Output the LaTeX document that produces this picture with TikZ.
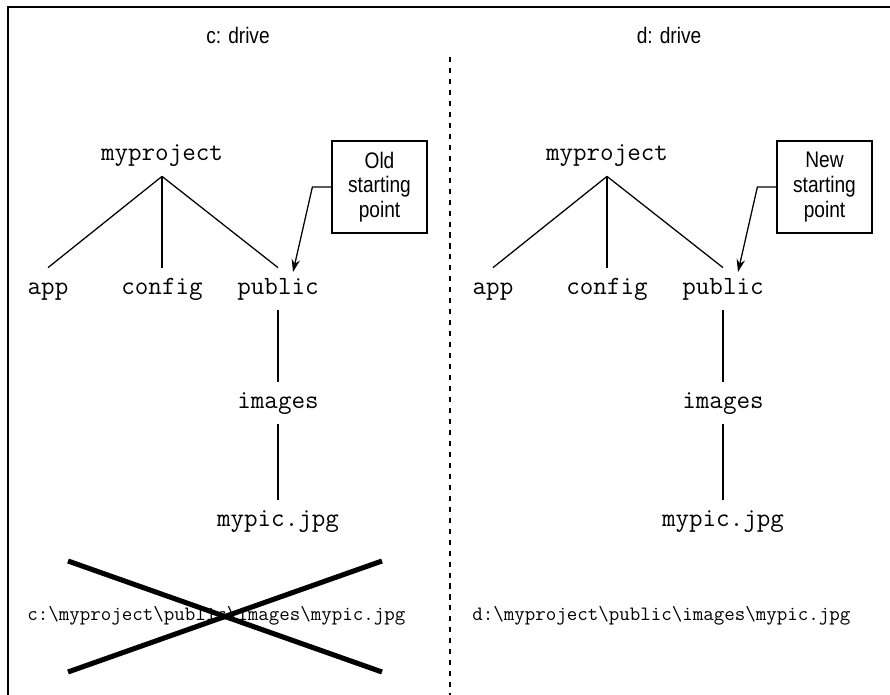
\documentclass[tikz,border=0pt]{standalone}
\usepackage{fontspec}
\setmainfont{Liberation Sans}[FakeStretch=0.85]
\usetikzlibrary{arrows.meta, positioning}

\tikzset{
  folder/.style={font=\ttfamily\fontsize{18.7}{22}\selectfont, text height=12pt, text depth=4pt, inner ysep=7pt, inner xsep=2pt},
  fullpath/.style={font=\ttfamily\fontsize{14.5}{17}\selectfont, anchor=base west, inner sep=0pt},
  drive/.style={font=\fontsize{16}{17.5}\selectfont, anchor=base, inner sep=0pt},
  callout/.style={draw, line width=1pt, align=center, font=\fontsize{16}{17.5}\selectfont, minimum width=2.37cm, minimum height=2.3cm, inner sep=0pt},
  branch/.style={line width=0.9pt},
  pointer/.style={line width=0.9pt, -{Stealth[length=9pt, width=6pt]}},
  cross/.style={line width=3.6pt},
}

\begin{document}
\begin{tikzpicture}[x=0.025cm, y=-0.025cm]
    \useasboundingbox (0,0) rectangle (890,695);

    % Frame and divider
    \draw[line width=1.2pt] (8,695) -- (8,7) -- (890,7);
    \draw[line width=0.9pt, dash pattern=on 3.6pt off 4.2pt] (450,57) -- (450,695);

    % c: drive
    \node[drive] (c-drive) at (238,44) {c: drive};
    \node[folder] (c-mp) at (162,155) {myproject};
    \node[folder] (c-app) at (48,289) {app};
    \node[folder] (c-cfg) at (162,289) {config};
    \node[folder] (c-pub) at (278,289) {public};
    \node[folder] (c-img) at (278,403) {images};
    \node[folder] (c-pic) at (278,521) {mypic.jpg};
    \draw[branch] (c-mp.south) -- (c-app.north);
    \draw[branch] (c-mp.south) -- (c-cfg.north);
    \draw[branch] (c-mp.south) -- (c-pub.north);
    \draw[branch] (c-pub.south) -- (c-img.north);
    \draw[branch] (c-img.south) -- (c-pic.north);

    \node[callout] (c-old) at (379.5,187) {Old\\starting\\point};
    \coordinate (c-tip) at (293,272);
    \draw[pointer] (c-old.west) -- ++(-19,0) -- (c-tip);

    \node[fullpath] (c-path) at (27,620) {c:\textbackslash myproject\textbackslash public\textbackslash images\textbackslash mypic.jpg};
    \draw[cross] (68,561) -- (382,672);
    \draw[cross] (68,672) -- (382,561);

    % d: drive
    \node[drive] (d-drive) at (669,44) {d: drive};
    \node[folder] (d-mp) at (607,155) {myproject};
    \node[folder] (d-app) at (493,289) {app};
    \node[folder] (d-cfg) at (607,289) {config};
    \node[folder] (d-pub) at (723,289) {public};
    \node[folder] (d-img) at (723,403) {images};
    \node[folder] (d-pic) at (723,521) {mypic.jpg};
    \draw[branch] (d-mp.south) -- (d-app.north);
    \draw[branch] (d-mp.south) -- (d-cfg.north);
    \draw[branch] (d-mp.south) -- (d-pub.north);
    \draw[branch] (d-pub.south) -- (d-img.north);
    \draw[branch] (d-img.south) -- (d-pic.north);

    \node[callout] (d-new) at (824.5,187) {New\\starting\\point};
    \coordinate (d-tip) at (738,272);
    \draw[pointer] (d-new.west) -- ++(-19,0) -- (d-tip);

    \node[fullpath] (d-path) at (472,620) {d:\textbackslash myproject\textbackslash public\textbackslash images\textbackslash mypic.jpg};
\end{tikzpicture}
\end{document}
